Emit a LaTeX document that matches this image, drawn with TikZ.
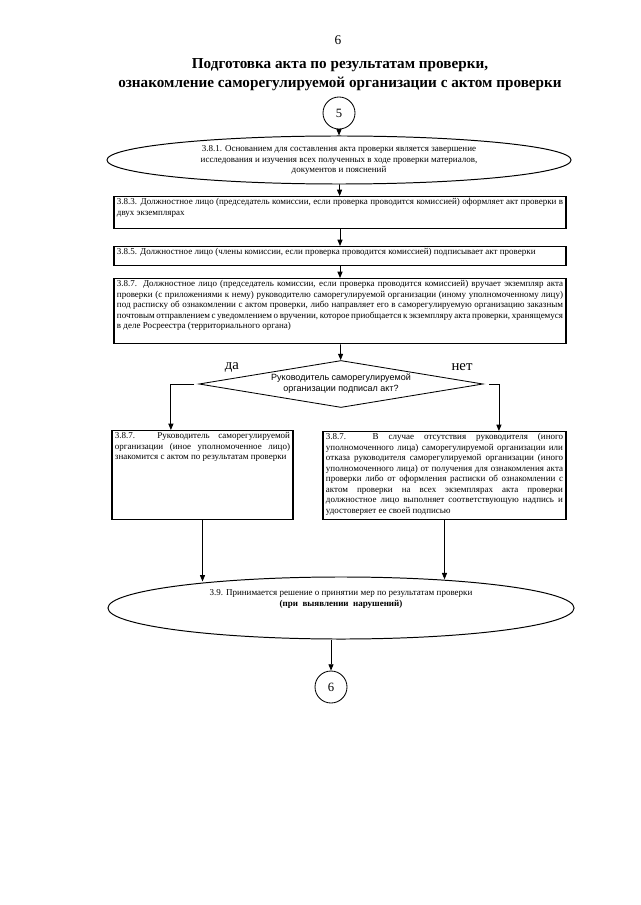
\documentclass[tikz,border=0pt]{standalone}
\usepackage{fontspec}
\setmainfont{Liberation Serif}
\newfontfamily\decfamily{Liberation Sans}
\usetikzlibrary{positioning,arrows.meta,shapes.geometric}

\newcommand{\stepfont}{\fontsize{6.4}{7.5}\selectfont\hyphenpenalty=10000\exhyphenpenalty=10000\relax}

\begin{document}
\begin{tikzpicture}[
			x=0.025cm, y=-0.025cm,
			>={Triangle[length=4.5pt,width=3.6pt]},
			flow/.style={->, line width=0.6pt},
			stepbox/.style={
				draw,
				line width=0.9pt,
				anchor=north,
				align=justify,
				inner xsep=2.1pt,
				inner ysep=1.2pt,
				font=\stepfont
			},
			stepoval/.style={
				draw,
				line width=0.7pt,
				ellipse,
				inner sep=0pt,
				align=center,
				font=\stepfont
			},
			conn/.style={
				draw,
				circle,
				line width=0.6pt,
				minimum size=0.8cm,
				inner sep=0pt,
				font=\fontsize{9}{10}\selectfont
			},
			branch/.style={font=\fontsize{10.5}{12}\selectfont}
			]
			
			\useasboundingbox (0,0) rectangle (640,905);
			
			%%%%%%%%%%%%%%%%%%%%%%%%%%%%%%%%%%%%%%%%%%%%%%%%%%%%%%%%%%%%
			% Heading
			%%%%%%%%%%%%%%%%%%%%%%%%%%%%%%%%%%%%%%%%%%%%%%%%%%%%%%%%%%%%
			
			\node (pagenum) at (338,40) [font=\fontsize{9.5}{11}\selectfont] {6};
			
			\node (title) at (340,75) [align=center, font=\bfseries\fontsize{10.8}{13.5}\selectfont]
			{Подготовка акта по результатам проверки,\\
				ознакомление саморегулируемой организации с актом проверки};
			
			%%%%%%%%%%%%%%%%%%%%%%%%%%%%%%%%%%%%%%%%%%%%%%%%%%%%%%%%%%%%
			% Act preparation
			%%%%%%%%%%%%%%%%%%%%%%%%%%%%%%%%%%%%%%%%%%%%%%%%%%%%%%%%%%%%
			
			\node (c5) [conn] at (339,113) {5};
			
			\node (s381) [stepoval, minimum width=11.6cm, minimum height=1.2cm] at (339,160)
			{3.8.1. Основанием для составления акта проверки является завершение\\
				исследования и изучения всех полученных в ходе проверки материалов,\\
				документов и пояснений};
			
			\node (s383) [stepbox, text width=11.15cm, text depth=16pt] at (340,196)
			{3.8.3. Должностное лицо (председатель комиссии, если проверка проводится комиссией) оформляет акт проверки в\linebreak
				двух экземплярах};
			
			\node (s385) [stepbox, text width=11.15cm, text depth=6.7pt] at (340,246)
			{3.8.5. Должностное лицо (члены комиссии, если проверка проводится комиссией) подписывает акт проверки};
			
			\node (s387) [stepbox, text width=11.15cm, text depth=39.4pt] at (340,278)
			{3.8.7. Должностное лицо (председатель комиссии, если проверка проводится комиссией) вручает экземпляр акта\linebreak
				проверки (с приложениями к нему) руководителю саморегулируемой организации (иному уполномоченному лицу)\linebreak
				под расписку об ознакомлении с актом проверки, либо направляет его в саморегулируемую организацию заказным\linebreak
				почтовым отправлением с уведомлением о вручении, которое приобщается к экземпляру акта проверки, хранящемуся\linebreak
				в деле Росреестра (территориального органа)};
			
			%%%%%%%%%%%%%%%%%%%%%%%%%%%%%%%%%%%%%%%%%%%%%%%%%%%%%%%%%%%%
			% Decision
			%%%%%%%%%%%%%%%%%%%%%%%%%%%%%%%%%%%%%%%%%%%%%%%%%%%%%%%%%%%%
			
			\node (check) [draw, line width=0.6pt, diamond, aspect=6, inner sep=0pt,
			minimum width=7.1cm, minimum height=1.175cm, align=center,
			font=\decfamily\fontsize{6.4}{7.8}\selectfont] at (341,384)
			{Руководитель саморегулируемой\\организации подписал акт?};
			
			\node (yeslbl) [branch] at (232,367) {да};
			\node (nolbl) [branch] at (462,367) {нет};
			
			\node (yes) [stepbox, text width=4.375cm, text depth=56.5pt] at (202.5,430)
			{3.8.7. Руководитель саморегулируемой\linebreak
				организации (иное уполномоченное лицо)\linebreak
				знакомится с актом по результатам проверки};
			
			\node (no) [stepbox, text width=5.925cm, text depth=55.8pt] at (444.5,431)
			{3.8.7. В случае отсутствия руководителя (иного\linebreak
				уполномоченного лица) саморегулируемой организации или\linebreak
				отказа руководителя саморегулируемой организации (иного\linebreak
				уполномоченного лица) от получения для ознакомления акта\linebreak
				проверки либо от оформления расписки об ознакомлении с\linebreak
				актом проверки на всех экземплярах акта проверки\linebreak
				должностное лицо выполняет соответствующую надпись и\linebreak
				удостоверяет ее своей подписью};
			
			%%%%%%%%%%%%%%%%%%%%%%%%%%%%%%%%%%%%%%%%%%%%%%%%%%%%%%%%%%%%
			% Measures
			%%%%%%%%%%%%%%%%%%%%%%%%%%%%%%%%%%%%%%%%%%%%%%%%%%%%%%%%%%%%
			
			\node (s39) [stepoval, minimum width=11.65cm, minimum height=1.55cm] at (341,608)
			{3.9. Принимается решение о принятии мер по результатам проверки\\
				\textbf{(при\ \ выявлении\ \ нарушений)}\\[6.6pt]\mbox{}};
			
			\node (c6) [conn] at (331,687) {6};
			
			%%%%%%%%%%%%%%%%%%%%%%%%%%%%%%%%%%%%%%%%%%%%%%%%%%%%%%%%%%%%
			% Connections
			%%%%%%%%%%%%%%%%%%%%%%%%%%%%%%%%%%%%%%%%%%%%%%%%%%%%%%%%%%%%
			
			\draw[flow] (c5) -- (s381);
			
			\draw[flow] (s381) -- (s383);
			
			\draw[flow] (s383) -- (s385);
			
			\draw[flow] (s385) -- (s387);
			
			\draw[flow] (s387) -- (check);
			
			% Branches
			
			\draw[flow, shorten <=3pt] (check.west) -| ([xshift=-0.79cm]yes.north);
			
			\draw[flow, shorten <=4pt] (check.east) -| ([xshift=1.36cm]no.north);
			
			\draw[flow, shorten >=-3.5pt] (yes.south) -- (yes.south |- s39.north);
			
			\draw[flow, shorten >=-2pt] (no.south) -- (no.south |- s39.north);
			
			\draw[flow] (c6 |- s39.south) -- (c6);
			
		\end{tikzpicture}
\end{document}
